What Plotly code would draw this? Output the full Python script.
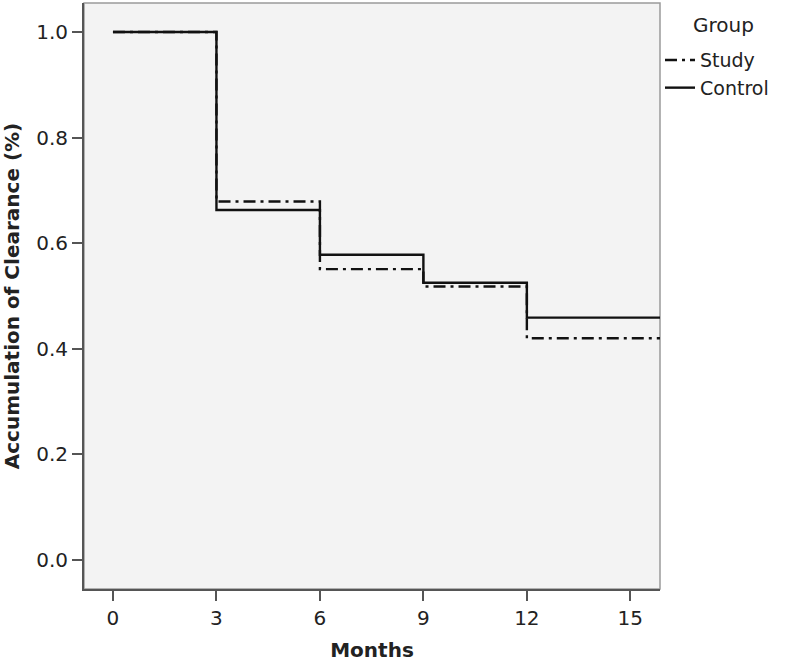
import plotly.graph_objects as go

months = [0, 3, 6, 9, 12, 16]
study = [1.0, 0.679, 0.551, 0.518, 0.420, 0.420]
control = [1.0, 0.663, 0.578, 0.525, 0.459, 0.459]
x_ticks = [0, 3, 6, 9, 12, 15]
y_ticks = [0.0, 0.2, 0.4, 0.6, 0.8, 1.0]
y_tick_labels = ["0.0", "0.2", "0.4", "0.6", "0.8", "1.0"]
legend_title = "Group"

FONT = "DejaVu Sans"
TXT = "#222222"

fig = go.Figure()
fig.add_trace(go.Scatter(
    x=months, y=study, name="Study", mode="lines", line_shape="hv",
    line=dict(color="#111111", width=2.4, dash="12px,5px,3px,5px"),
))
fig.add_trace(go.Scatter(
    x=months, y=control, name="Control", mode="lines", line_shape="hv",
    line=dict(color="#111111", width=2.4),
))

fig.update_layout(
    width=787, height=664,
    margin=dict(l=84, r=127, t=3, b=75),
    paper_bgcolor="white",
    plot_bgcolor="#f3f3f3",
    font=dict(family=FONT, size=20, color=TXT),
    showlegend=True,
    legend=dict(
        x=1.0, y=0.935, xanchor="left", yanchor="top",
        xref="paper", yref="paper",
        bgcolor="rgba(0,0,0,0)",
        font=dict(size=19, family=FONT, color=TXT),
        itemwidth=30,
        tracegroupgap=0,
    ),
    annotations=[dict(
        text=legend_title, xref="paper", yref="paper", x=1.111, y=0.9625,
        xanchor="center", yanchor="middle", showarrow=False,
        font=dict(size=20, family=FONT, color=TXT),
    )],
)
fig.update_xaxes(
    range=[-0.84, 15.86],
    tickvals=x_ticks, ticktext=[str(v) for v in x_ticks],
    ticks="outside", ticklen=10, tickwidth=2, tickcolor="#555555",
    showline=True, linecolor="#555555", linewidth=2, mirror=False,
    showgrid=False, zeroline=False, automargin=False,
    tickfont=dict(size=20, family=FONT, color=TXT),
    title=dict(text="<b>Months</b>", font=dict(size=20, family=FONT, color=TXT), standoff=14),
)
fig.update_yaxes(
    range=[-0.055, 1.055],
    tickvals=y_ticks, ticktext=y_tick_labels,
    ticks="outside", ticklen=10, tickwidth=2, tickcolor="#555555",
    showline=True, linecolor="#555555", linewidth=2, mirror=False,
    showgrid=False, zeroline=False, automargin=False,
    tickfont=dict(size=20, family=FONT, color=TXT),
    title=dict(text="<b>Accumulation of Clearance (%)</b>", font=dict(size=20, family=FONT, color=TXT), standoff=12),
)
# top/right frame in lighter gray
fig.add_shape(type="rect", xref="paper", yref="paper", x0=0, y0=0, x1=1, y1=1,
              line=dict(color="#9a9a9a", width=1.5), layer="below")

fig.write_html("out.html", config={"displayModeBar": False},
               post_script="document.body.style.margin='0px';document.body.style.padding='0px';")
